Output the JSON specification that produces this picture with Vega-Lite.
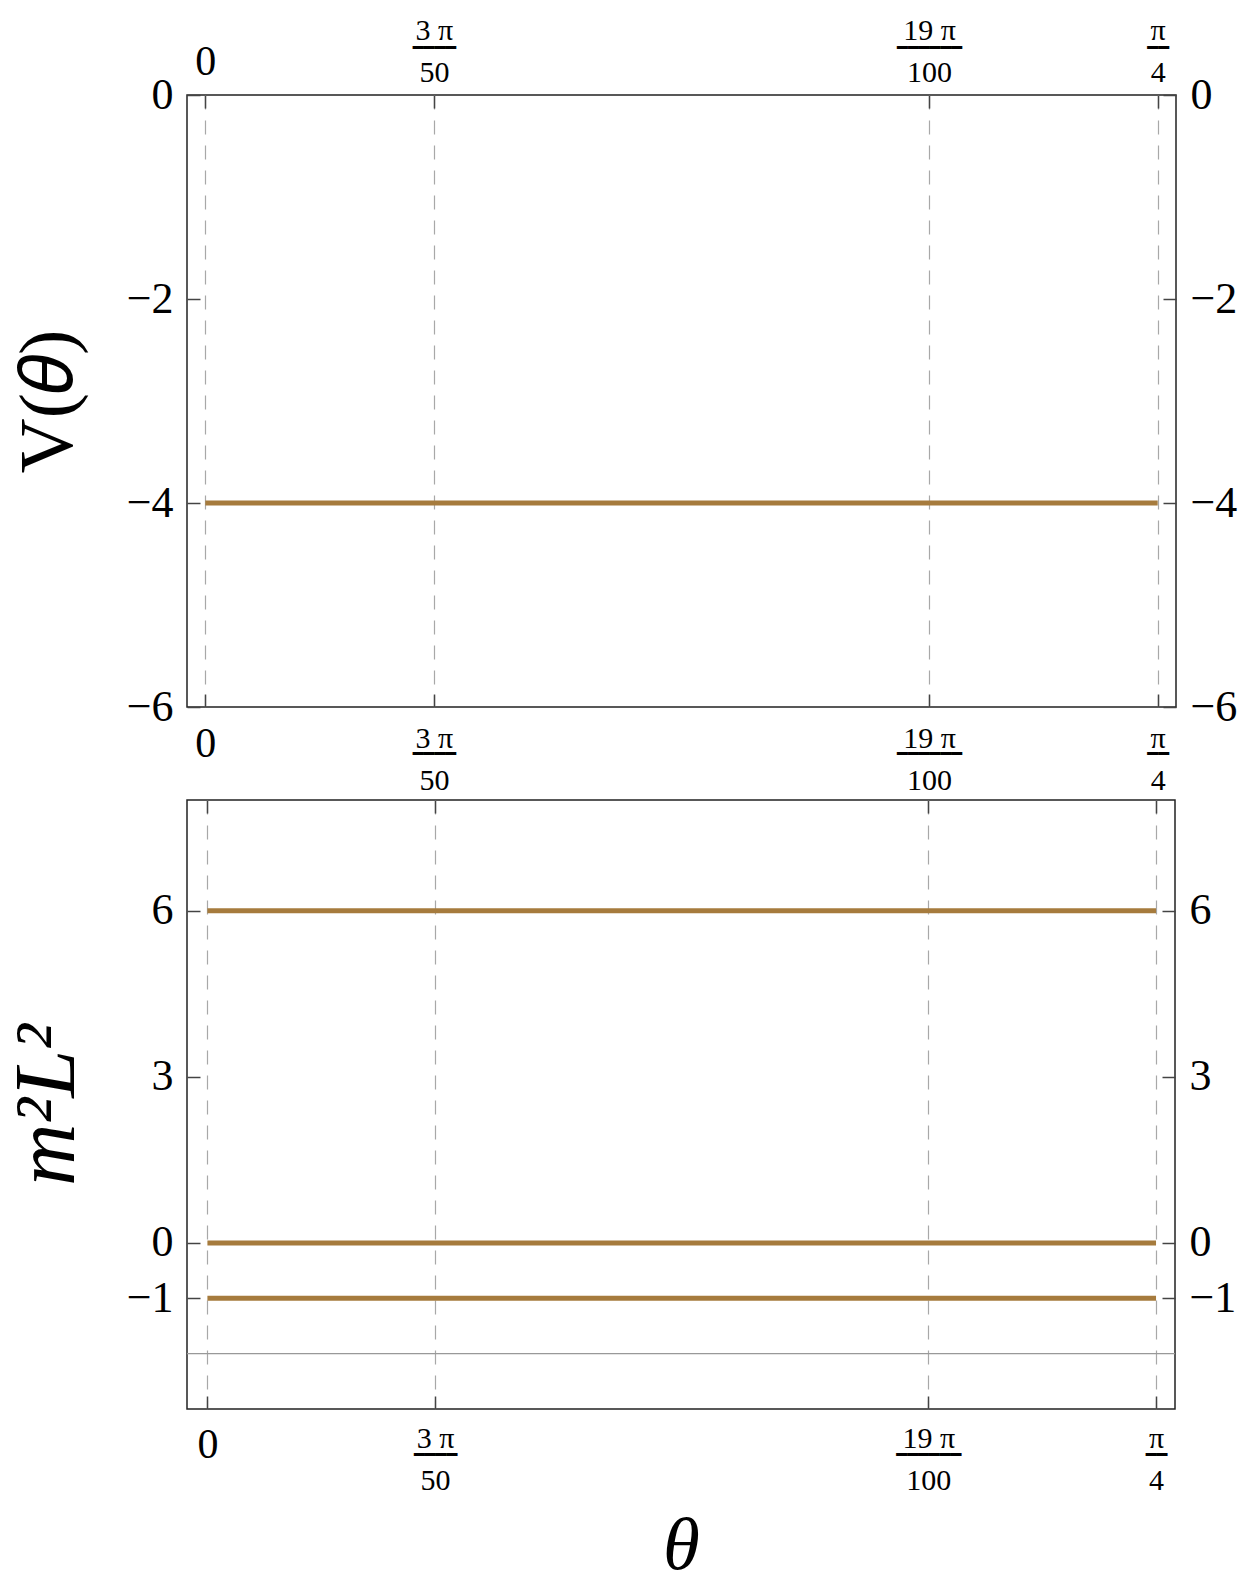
{
  "$schema": "https://vega.github.io/schema/vega-lite/v6.json",
  "background": "white",
  "padding": {"left": 3, "top": 14, "right": 5, "bottom": 20},
  "bounds": "flush",
  "spacing": 93,
  "datasets": {
    "potential": [
      {"theta": 0, "V": -4},
      {"theta": 0.7853981633974483, "V": -4}
    ],
    "spectrum": [
      {"theta": 0, "m2L2": 6, "branch": "a"},
      {"theta": 0.7853981633974483, "m2L2": 6, "branch": "a"},
      {"theta": 0, "m2L2": 0, "branch": "b"},
      {"theta": 0.7853981633974483, "m2L2": 0, "branch": "b"},
      {"theta": 0, "m2L2": -1, "branch": "c"},
      {"theta": 0.7853981633974483, "m2L2": -1, "branch": "c"}
    ],
    "bound": [{"level": -2}]
  },
  "config": {
    "view": {"stroke": "#222222", "strokeWidth": 1.5},
    "font": "Liberation Serif",
    "axis": {
      "grid": false,
      "domain": false,
      "labelFlush": false,
      "labelOverlap": false,
      "labelColor": "black",
      "labelFont": "Liberation Serif",
      "titleColor": "black",
      "titleFont": "Liberation Serif",
      "titleFontWeight": "normal",
      "tickColor": "#444444",
      "tickWidth": 1.5
    }
  },
  "vconcat": [
    {
      "width": 989,
      "height": 612,
      "resolve": {"axis": {"x": "independent", "y": "independent"}},
      "layer": [
        {
          "data": {"name": "potential"},
          "mark": {"type": "line", "color": "#A67B3D", "strokeWidth": 5, "strokeCap": "butt"},
          "encoding": {
            "x": {"field": "theta", "type": "quantitative",
              "scale": {"domain": [-0.0151, 0.8005], "nice": false, "zero": false},
              "axis": {"orient": "bottom", "values": [0, 0.18849555921538758, 0.5969026041820607, 0.7853981633974483],
                "tickSize": -13, "grid": true, "gridDash": [14, 11], "gridColor": "#a8a8a8", "gridWidth": 1.2,
                "labelExpr": "datum.value < 0.1 ? '0' : ''", "labelFontSize": 42, "labelBaseline": "alphabetic", "labelPadding": 62, "title": null}},
            "y": {"field": "V", "type": "quantitative",
              "scale": {"domain": [-6, 0], "nice": false, "zero": false},
              "axis": {"orient": "left", "values": [0, -2, -4, -6], "tickSize": -13, "labelFontSize": 44, "labelPadding": 27, "labelBaseline": "middle",
                "title": "V(𝜃)", "titleFontSize": 76, "titlePadding": 39}}
          }
        },
        {
          "data": {"name": "potential"},
          "mark": {"type": "point", "opacity": 0},
          "encoding": {
            "x": {"field": "theta", "type": "quantitative",
              "scale": {"domain": [-0.0151, 0.8005], "nice": false, "zero": false},
              "axis": {"orient": "bottom", "values": [0, 0.18849555921538758, 0.5969026041820607, 0.7853981633974483], "ticks": false,
                "labelExpr": "datum.value < 0.1 ? '' : datum.value < 0.4 ? ['3 π', '50'] : datum.value < 0.7 ? ['19 π', '100'] : ['π', '4']",
                "labelFontSize": 30, "labelLineHeight": 42, "labelBaseline": "alphabetic", "labelPadding": 40, "title": null}},
            "y": {"field": "V", "type": "quantitative",
              "scale": {"domain": [-6, 0], "nice": false, "zero": false},
              "axis": {"orient": "right", "values": [0, -2, -4, -6], "tickSize": -13, "labelFontSize": 44, "labelPadding": 27, "labelBaseline": "middle", "title": null}}
          }
        },
        {
          "data": {"name": "potential"},
          "mark": {"type": "point", "opacity": 0},
          "encoding": {
            "x": {"field": "theta", "type": "quantitative",
              "scale": {"domain": [-0.0151, 0.8005], "nice": false, "zero": false},
              "axis": {"orient": "bottom", "values": [0, 0.18849555921538758, 0.5969026041820607, 0.7853981633974483], "ticks": false,
                "labelExpr": "datum.value < 0.1 ? '' : datum.value < 0.4 ? '━━━━' : datum.value < 0.7 ? '━━━━━━' : '━━'",
                "labelFont": "DejaVu Sans Mono", "labelFontSize": 18, "labelBaseline": "alphabetic", "labelPadding": 52, "title": null}},
            "y": {"field": "V", "type": "quantitative", "scale": {"domain": [-6, 0], "nice": false, "zero": false}, "axis": null}
          }
        },
        {
          "data": {"name": "potential"},
          "mark": {"type": "point", "opacity": 0},
          "encoding": {
            "x": {"field": "theta", "type": "quantitative",
              "scale": {"domain": [-0.0151, 0.8005], "nice": false, "zero": false},
              "axis": {"orient": "top", "values": [0, 0.18849555921538758, 0.5969026041820607, 0.7853981633974483], "tickSize": -13,
                "labelExpr": "datum.value < 0.1 ? '0' : ''", "labelFontSize": 42, "labelBaseline": "alphabetic", "labelPadding": 34, "title": null}},
            "y": {"field": "V", "type": "quantitative", "scale": {"domain": [-6, 0], "nice": false, "zero": false}, "axis": null}
          }
        },
        {
          "data": {"name": "potential"},
          "mark": {"type": "point", "opacity": 0},
          "encoding": {
            "x": {"field": "theta", "type": "quantitative",
              "scale": {"domain": [-0.0151, 0.8005], "nice": false, "zero": false},
              "axis": {"orient": "top", "values": [0, 0.18849555921538758, 0.5969026041820607, 0.7853981633974483], "ticks": false,
                "labelExpr": "datum.value < 0.1 ? '' : datum.value < 0.4 ? ['3 π', '50'] : datum.value < 0.7 ? ['19 π', '100'] : ['π', '4']",
                "labelFontSize": 30, "labelLineHeight": 42, "labelBaseline": "alphabetic", "labelPadding": 56, "title": null}},
            "y": {"field": "V", "type": "quantitative", "scale": {"domain": [-6, 0], "nice": false, "zero": false}, "axis": null}
          }
        },
        {
          "data": {"name": "potential"},
          "mark": {"type": "point", "opacity": 0},
          "encoding": {
            "x": {"field": "theta", "type": "quantitative",
              "scale": {"domain": [-0.0151, 0.8005], "nice": false, "zero": false},
              "axis": {"orient": "top", "values": [0, 0.18849555921538758, 0.5969026041820607, 0.7853981633974483], "ticks": false,
                "labelExpr": "datum.value < 0.1 ? '' : datum.value < 0.4 ? '━━━━' : datum.value < 0.7 ? '━━━━━━' : '━━'",
                "labelFont": "DejaVu Sans Mono", "labelFontSize": 18, "labelBaseline": "alphabetic", "labelPadding": 42, "title": null}},
            "y": {"field": "V", "type": "quantitative", "scale": {"domain": [-6, 0], "nice": false, "zero": false}, "axis": null}
          }
        }
      ]
    },
    {
      "width": 988,
      "height": 609,
      "resolve": {"axis": {"x": "independent", "y": "independent"}},
      "layer": [
        {
          "data": {"name": "spectrum"},
          "mark": {"type": "line", "color": "#A67B3D", "strokeWidth": 5, "strokeCap": "butt"},
          "encoding": {
            "x": {"field": "theta", "type": "quantitative",
              "scale": {"domain": [-0.0169, 0.8011], "nice": false, "zero": false},
              "axis": {"orient": "bottom", "values": [0, 0.18849555921538758, 0.5969026041820607, 0.7853981633974483],
                "tickSize": -13, "grid": true, "gridDash": [14, 11], "gridColor": "#a8a8a8", "gridWidth": 1.2,
                "labelExpr": "datum.value < 0.1 ? '0' : ''", "labelFontSize": 42, "labelBaseline": "alphabetic", "labelPadding": 61, "title": null}},
            "y": {"field": "m2L2", "type": "quantitative",
              "scale": {"domain": [-3, 8], "nice": false, "zero": false},
              "axis": {"orient": "left", "values": [6, 3, 0, -1], "tickSize": -13, "labelFontSize": 44, "labelPadding": 27, "labelBaseline": "middle",
                "title": "m²L²", "titleFontSize": 86, "titleFontStyle": "italic", "titlePadding": 35}},
            "detail": {"field": "branch", "type": "nominal"}
          }
        },
        {
          "data": {"name": "bound"},
          "mark": {"type": "rule", "color": "#999999", "strokeWidth": 1.2},
          "encoding": {
            "y": {"field": "level", "type": "quantitative",
              "scale": {"domain": [-3, 8], "nice": false, "zero": false},
              "axis": {"orient": "right", "values": [6, 3, 0, -1], "tickSize": -13, "labelFontSize": 44, "labelPadding": 27, "labelBaseline": "middle", "title": null}}
          }
        },
        {
          "data": {"name": "spectrum"},
          "mark": {"type": "point", "opacity": 0},
          "encoding": {
            "x": {"field": "theta", "type": "quantitative",
              "scale": {"domain": [-0.0169, 0.8011], "nice": false, "zero": false},
              "axis": {"orient": "bottom", "values": [0, 0.18849555921538758, 0.5969026041820607, 0.7853981633974483], "ticks": false,
                "labelExpr": "datum.value < 0.1 ? '' : datum.value < 0.4 ? ['3 π', '50'] : datum.value < 0.7 ? ['19 π', '100'] : ['π', '4']",
                "labelFontSize": 30, "labelLineHeight": 42, "labelBaseline": "alphabetic", "labelPadding": 38,
                "title": "θ", "titleFontSize": 75, "titleFontStyle": "italic", "titlePadding": 14}},
            "y": {"field": "m2L2", "type": "quantitative", "scale": {"domain": [-3, 8], "nice": false, "zero": false}, "axis": null}
          }
        },
        {
          "data": {"name": "spectrum"},
          "mark": {"type": "point", "opacity": 0},
          "encoding": {
            "x": {"field": "theta", "type": "quantitative",
              "scale": {"domain": [-0.0169, 0.8011], "nice": false, "zero": false},
              "axis": {"orient": "bottom", "values": [0, 0.18849555921538758, 0.5969026041820607, 0.7853981633974483], "ticks": false,
                "labelExpr": "datum.value < 0.1 ? '' : datum.value < 0.4 ? '━━━━' : datum.value < 0.7 ? '━━━━━━' : '━━'",
                "labelFont": "DejaVu Sans Mono", "labelFontSize": 18, "labelBaseline": "alphabetic", "labelPadding": 51, "title": null}},
            "y": {"field": "m2L2", "type": "quantitative", "scale": {"domain": [-3, 8], "nice": false, "zero": false}, "axis": null}
          }
        },
        {
          "data": {"name": "spectrum"},
          "mark": {"type": "point", "opacity": 0},
          "encoding": {
            "x": {"field": "theta", "type": "quantitative",
              "scale": {"domain": [-0.0169, 0.8011], "nice": false, "zero": false},
              "axis": {"orient": "top", "values": [0, 0.18849555921538758, 0.5969026041820607, 0.7853981633974483], "tickSize": -13,
                "labels": false, "title": null}},
            "y": {"field": "m2L2", "type": "quantitative", "scale": {"domain": [-3, 8], "nice": false, "zero": false}, "axis": null}
          }
        }
      ]
    }
  ]
}
